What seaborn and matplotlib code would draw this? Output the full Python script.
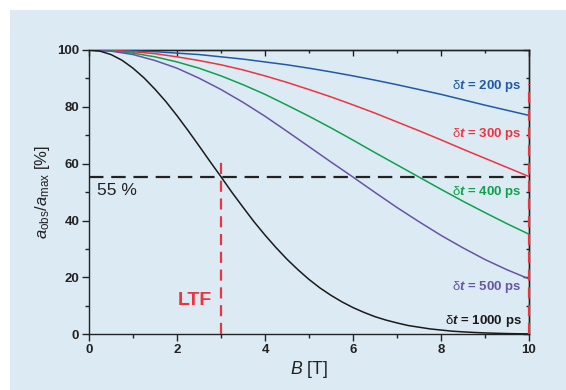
import numpy as np
import pandas as pd
import matplotlib
matplotlib.use("Agg")
import matplotlib.pyplot as plt
from matplotlib.patches import Rectangle
from matplotlib.ticker import MultipleLocator, NullFormatter
import seaborn as sns

# ---------------- data ----------------
B = [0, 0.5, 1, 1.5, 2, 2.5, 3, 3.5, 4, 4.5, 5, 5.5, 6, 6.5, 7, 7.5, 8, 8.5, 9, 9.5, 10]
a_200 = [100, 99.9, 99.7, 99.4, 98.9, 98.4, 97.6, 96.8, 95.8, 94.8, 93.6,
         92.3, 90.9, 89.4, 87.8, 86.1, 84.4, 82.5, 80.6, 78.8, 77.0]
a_300 = [100, 99.85, 99.4, 98.7, 97.6, 96.3, 94.8, 93.0, 90.9, 88.6, 86.1,
         83.5, 80.7, 77.8, 74.7, 71.6, 68.4, 65.1, 61.9, 58.7, 55.5]
a_400 = [100, 99.7, 98.9, 97.6, 95.8, 93.6, 90.9, 87.8, 84.4, 80.6, 76.7,
         72.6, 68.3, 63.9, 59.6, 55.3, 51.0, 46.8, 42.8, 38.9, 35.2]
a_500 = [100, 99.6, 98.4, 96.3, 93.6, 90.1, 86.1, 81.6, 76.7, 71.4, 66.0,
         60.6, 55.3, 49.9, 44.6, 39.6, 34.8, 30.4, 26.3, 22.7, 19.5]
# the 1000 ps curve bends sharply, so it is read at a finer step
B_1000 = [0, 0.25, 0.5, 0.75, 1, 1.25, 1.5, 1.75, 2, 2.25, 2.5, 2.75, 3, 3.25,
          3.5, 3.75, 4, 4.25, 4.5, 4.75, 5, 5.25, 5.5, 5.75, 6, 6.25, 6.5, 6.75,
          7, 7.25, 7.5, 7.75, 8, 8.25, 8.5, 8.75, 9, 9.25, 9.5, 9.75, 10]
a_1000 = [100, 99.6, 98.4, 96.4, 93.6, 90.2, 86.2, 81.8, 76.9, 71.7, 66.3,
          60.8, 55.4, 49.9, 44.7, 39.6, 34.9, 30.5, 26.4, 22.7, 19.3, 16.3,
          13.7, 11.4, 9.4, 7.7, 6.2, 5.0, 4.0, 3.1, 2.5, 1.9, 1.5, 1.1, 0.86,
          0.65, 0.48, 0.36, 0.26, 0.19, 0.14]
series_names = ["δt = 200 ps", "δt = 300 ps", "δt = 400 ps", "δt = 500 ps", "δt = 1000 ps"]
series_x = [B, B, B, B, B_1000]
series_values = [a_200, a_300, a_400, a_500, a_1000]
series_labels = [r"$\mathrm{δ}\mathbfit{t}$ = 200 ps", r"$\mathrm{δ}\mathbfit{t}$ = 300 ps",
                 r"$\mathrm{δ}\mathbfit{t}$ = 400 ps", r"$\mathrm{δ}\mathbfit{t}$ = 500 ps",
                 r"$\mathrm{δ}\mathbfit{t}$ = 1000 ps"]
label_y = [87.3, 70.4, 50.1, 16.7, 4.7]
colors = ["#1f5aa8", "#ee3340", "#0fa04a", "#6655a5", "#1a1a1a"]

LTF_LEVEL = 55.5      # horizontal dashed line [%]
LTF_B = 3.0           # B at LTF [T]
LTF_TOP = 62.0        # top of the LTF vertical dashed line
B_MAX = 10.0
B_MAX_TOP = 88.0      # top of red dashed line at B = 10

x_ticks = [0, 2, 4, 6, 8, 10]
y_ticks = [0, 20, 40, 60, 80, 100]

# ---------------- style ----------------
sns.set_style("ticks")
plt.rcParams["font.family"] = ["Liberation Sans", "DejaVu Sans"]
plt.rcParams["mathtext.fontset"] = "custom"
plt.rcParams["mathtext.rm"] = "Liberation Sans"
plt.rcParams["mathtext.it"] = "Liberation Sans:italic"
plt.rcParams["mathtext.bf"] = "Liberation Sans:bold"
plt.rcParams["mathtext.bfit"] = "Liberation Sans:bold:italic"

BG = "#dcebf3"
fig = plt.figure(figsize=(5.66, 3.90), dpi=100, facecolor="white")
fig.patches.append(Rectangle((9.5 / 566, 0), 1 - 9.5 / 566, 1 - 9.5 / 390,
                             transform=fig.transFigure, facecolor=BG,
                             edgecolor="none", zorder=-10))
ax = fig.add_axes([89 / 566, 55.7 / 390, 440 / 566, 284.3 / 390])
ax.set_facecolor(BG)

df = pd.concat([pd.DataFrame({"B": x, "a": v, "series": n})
                for n, x, v in zip(series_names, series_x, series_values)],
               ignore_index=True)
sns.lineplot(data=df, x="B", y="a", hue="series", palette=colors,
             hue_order=series_names, legend=False, linewidth=1.1, ax=ax,
             zorder=3)

ax.set_xlim(0, 10)
ax.set_ylim(0, 100)

# reference lines
ax.axhline(LTF_LEVEL, color="#222222", lw=1.6, dashes=(6.5, 3.5), zorder=4)
ax.vlines(LTF_B, 0, LTF_TOP, color="#ee3340", lw=1.6, linestyles=(0, (5, 3)), zorder=5)
ax.vlines(B_MAX, 0, B_MAX_TOP, color="#ee3340", lw=1.6, linestyles=(0, (5, 3)),
          zorder=6, clip_on=False)

# labels
for lab, yy, c in zip(series_labels, label_y, colors):
    ax.text(9.84, yy, lab, ha="right", va="center", color=c,
            fontsize=9.5, fontweight="bold", zorder=7)
ax.text(0.18, 50.7, "55 %", ha="left", va="center", fontsize=12.5, color="#222222")
ax.text(2.8, 12, "LTF", ha="right", va="center", fontsize=14, fontweight="bold",
        color="#ee3340")

# axes styling
for s in ax.spines.values():
    s.set_linewidth(1.0)
    s.set_color("#222222")
ax.xaxis.set_minor_locator(MultipleLocator(1))
ax.yaxis.set_minor_locator(MultipleLocator(10))
ax.set_xticks(x_ticks)
ax.set_yticks(y_ticks)
ax.set_xticklabels([str(t) for t in x_ticks])
ax.set_yticklabels([str(t) for t in y_ticks])
ax.tick_params(which="major", direction="out", length=5, width=1.0,
               labelsize=9.5, color="#222222", pad=2)
ax.tick_params(which="minor", direction="out", length=3, width=1.0, color="#222222")
for t in ax.get_xticklabels() + ax.get_yticklabels():
    t.set_fontweight("bold")
    t.set_color("#222222")

top = ax.secondary_xaxis("top")
top.xaxis.set_major_locator(MultipleLocator(2))
top.xaxis.set_minor_locator(MultipleLocator(1))
top.xaxis.set_major_formatter(NullFormatter())
top.tick_params(which="major", direction="in", length=4, width=1.0, color="#222222")
top.tick_params(which="minor", direction="in", length=2.5, width=1.0, color="#222222")
top.spines["top"].set_linewidth(1.0)
right = ax.secondary_yaxis("right")
right.yaxis.set_major_locator(MultipleLocator(20))
right.yaxis.set_minor_locator(MultipleLocator(10))
right.yaxis.set_major_formatter(NullFormatter())
right.tick_params(which="major", direction="in", length=4, width=1.0, color="#222222")
right.tick_params(which="minor", direction="in", length=2.5, width=1.0, color="#222222")
right.spines["right"].set_linewidth(1.0)

ax.set_xlabel(r"$B$ [T]", fontsize=12.7, color="#222222", labelpad=2)
ax.set_ylabel(r"$a_{\mathrm{obs}}/a_{\mathrm{max}}$ [%]", fontsize=12,
              color="#222222", labelpad=4)

fig.savefig("out.png", dpi=100, facecolor="white")
